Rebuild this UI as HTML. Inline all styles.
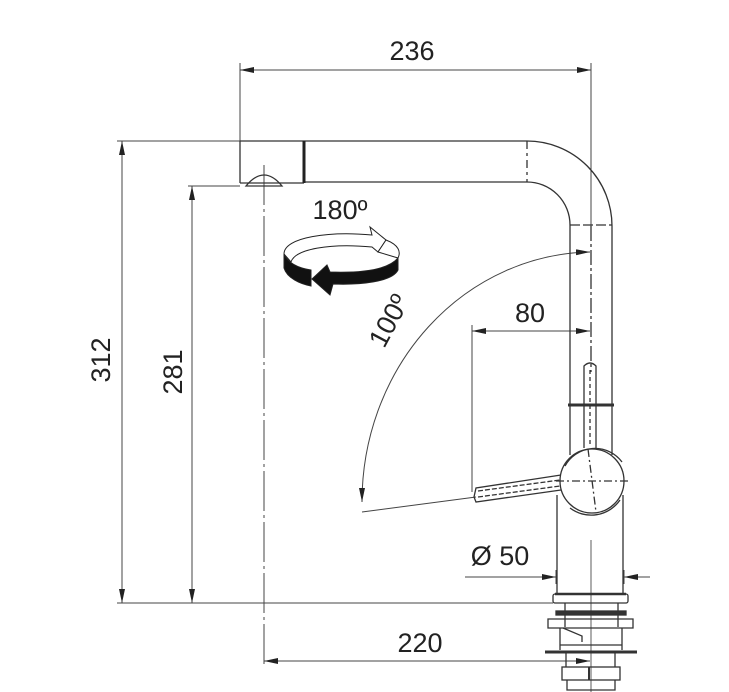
<!DOCTYPE html>
<html><head><meta charset="utf-8"><style>
html,body{margin:0;padding:0;background:#fff;}
svg{display:block}
text{font-family:"Liberation Sans",sans-serif;fill:#222;font-size:27px}
</style></head><body>
<svg width="729" height="692" viewBox="0 0 729 692" xmlns="http://www.w3.org/2000/svg">
<defs>
<marker id="a" viewBox="0 0 14 6" refX="14" refY="3" markerWidth="14" markerHeight="6" orient="auto-start-reverse" markerUnits="userSpaceOnUse"><path d="M0,0 L14,3 L0,6 Z" fill="#222"/></marker>
</defs>
<g stroke="#444" stroke-width="1" fill="none">
<line x1="240" y1="63" x2="240" y2="141"/>
<line x1="591" y1="63" x2="591" y2="226"/>
<line x1="117" y1="141" x2="240" y2="141"/>
<line x1="188" y1="186" x2="240" y2="186"/>
<line x1="117" y1="603" x2="553" y2="603"/>
<line x1="264" y1="165" x2="264" y2="665" stroke-dasharray="40,4,3,4"/>
<line x1="472" y1="325" x2="472" y2="492"/>
<line x1="240" y1="70" x2="591" y2="70" marker-start="url(#a)" marker-end="url(#a)"/>
<line x1="122" y1="141" x2="122" y2="603" marker-start="url(#a)" marker-end="url(#a)"/>
<line x1="192" y1="186" x2="192" y2="603" marker-start="url(#a)" marker-end="url(#a)"/>
<line x1="264" y1="661" x2="590" y2="661" marker-start="url(#a)" marker-end="url(#a)"/>
<line x1="472" y1="331" x2="590" y2="331" marker-start="url(#a)" marker-end="url(#a)"/>
<line x1="465" y1="577" x2="556" y2="577" marker-end="url(#a)"/>
<line x1="650" y1="577" x2="624" y2="577" marker-end="url(#a)"/>
<line x1="556" y1="570" x2="556" y2="584"/><line x1="624" y1="570" x2="624" y2="584"/>
<path d="M362,502 A232,250 0 0 1 590,252" marker-start="url(#a)" marker-end="url(#a)"/>
<line x1="362" y1="512" x2="476" y2="497"/>
</g>
<g stroke="#333" stroke-width="1.3" fill="none">
<line x1="240" y1="141" x2="527" y2="141"/>
<line x1="240" y1="141" x2="240" y2="183"/>
<line x1="240" y1="183" x2="304" y2="183"/>
<line x1="304" y1="182" x2="527" y2="182"/>
<path d="M527,141 A85,85 0 0 1 612,226 L612,405"/>
<path d="M527,182 A43,43 0 0 1 570,225 L570,455"/>
<line x1="527" y1="141" x2="527" y2="182" stroke-dasharray="8,4,3,4"/>
<line x1="570" y1="225" x2="612" y2="225" stroke-dasharray="10,3"/>
<line x1="591" y1="226" x2="591" y2="372" stroke-dasharray="15,3,3,3"/>
<path d="M246,186 Q264,164 282,186 Z"/>
<line x1="612" y1="405" x2="612" y2="455"/>
<line x1="568" y1="405" x2="614" y2="405" stroke-width="3"/>
<path d="M584,448 L584,366 Q590,360 596,366 L596,448"/>
<line x1="590" y1="370" x2="590" y2="445" stroke-dasharray="4,3"/>
<circle cx="592" cy="481" r="32"/>
<path d="M565,466 A34,34 0 0 1 622,462" />
<path d="M570,508 A35,35 0 0 0 620,500"/>
<line x1="556" y1="481" x2="628" y2="481" stroke-dasharray="8,3,2,3"/>
<line x1="588" y1="449" x2="596" y2="512" stroke-dasharray="8,3,2,3"/>
<path d="M561,475 L476,488 L474,497 L476,502 L561,490"/>
<line x1="478" y1="491" x2="560" y2="480" stroke-dasharray="5,2"/>
<line x1="478" y1="497" x2="560" y2="486" stroke-dasharray="5,2"/>
<line x1="557" y1="495" x2="557" y2="594"/>
<line x1="623" y1="495" x2="623" y2="594"/>
<rect x="553" y="594" width="75" height="9" rx="2"/>
<line x1="555" y1="594" x2="626" y2="594" stroke-width="2.5"/>
<line x1="565" y1="603" x2="565" y2="627"/><line x1="618" y1="603" x2="618" y2="627"/>
<rect x="556" y="611" width="70" height="4" fill="#333"/>
<path d="M548,619 L633,619 L633,628 L548,628 Z"/>
<path d="M560,628 L560,650 M622,628 L622,650 M560,645 L622,645"/>
<path d="M563,628 L582,636 L582,642"/>
<line x1="545" y1="652" x2="637" y2="652" stroke-width="3"/>
<path d="M566,653 L566,667 M615,653 L615,667"/>
<rect x="562" y="667" width="58" height="13"/>
<line x1="589" y1="667" x2="589" y2="680" stroke-width="2"/>
<path d="M567,680 L567,690 L615,690 L615,680"/>
<line x1="591" y1="540" x2="591" y2="692" stroke-width="0.8"/>
</g>
<line x1="304" y1="141" x2="304" y2="183" stroke="#222" stroke-width="3"/>
<g stroke="#222" stroke-width="1">
<path d="M284,254 C284,237 330,231 372,235 L370,227 L386,240 L378,252 L372,247 C330,243 295,249 291,262 Z" fill="#fff"/>
<path d="M386,240 C399,245 401,252 398,258 L378,252 Z" fill="#fff"/>
<path d="M284,254 L284,268 C287,278 300,284 311,286 L311,270 C298,268 288,263 284,254 Z" fill="#111"/>
<path d="M398,258 L398,270 C392,282 360,285 333,284 L330,295 L312,279 L327,265 L330,272 C360,273 388,270 398,258 Z" fill="#111"/>
</g>
<text x="412" y="60" text-anchor="middle">236</text>
<text x="340" y="219" text-anchor="middle">180º</text>
<text x="530" y="322" text-anchor="middle">80</text>
<text x="420" y="652" text-anchor="middle">220</text>
<text x="500" y="565" text-anchor="middle">Ø 50</text>
<text transform="translate(110,360) rotate(-90)" text-anchor="middle">312</text>
<text transform="translate(182,372) rotate(-90)" text-anchor="middle">281</text>
<text transform="translate(397,325) rotate(-62)" text-anchor="middle">100º</text>
</svg>
</body></html>
